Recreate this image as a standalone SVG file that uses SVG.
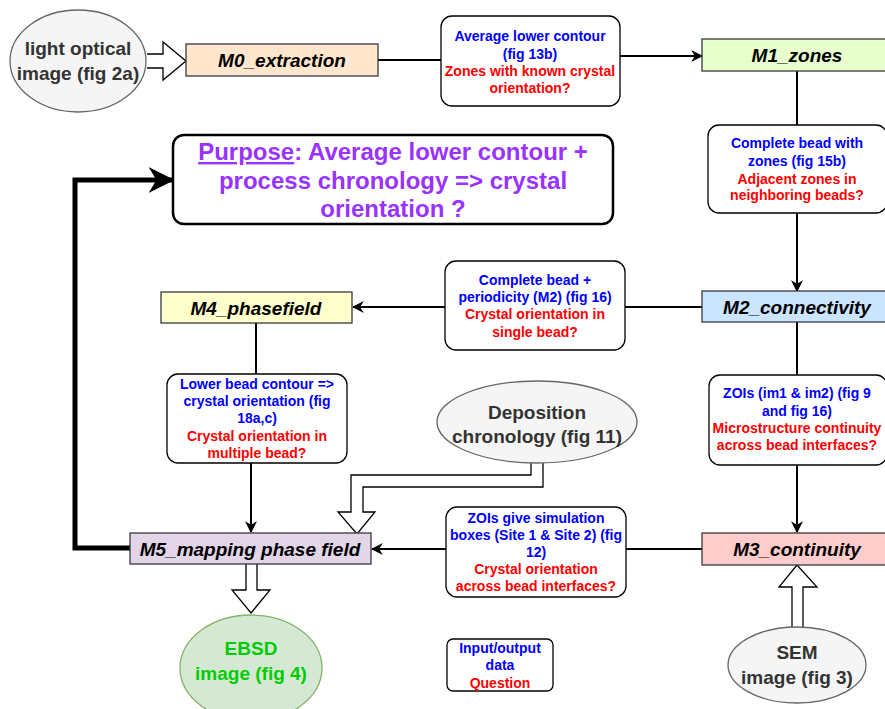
<svg xmlns="http://www.w3.org/2000/svg" width="885" height="709" viewBox="0 0 885 709">
<defs>
<marker id="ahs" viewBox="0 0 10 10" refX="9" refY="5" markerWidth="12" markerHeight="12" orient="auto" markerUnits="userSpaceOnUse"><path d="M0,0 L10,5 L0,10 L3,5 Z" fill="#000"/></marker>
<marker id="ahb" viewBox="0 0 10 10" refX="9" refY="5" markerWidth="26" markerHeight="26" orient="auto" markerUnits="userSpaceOnUse"><path d="M0,0 L10,5 L0,10 L3,5 Z" fill="#000"/></marker>
</defs>
<style>
text{font-family:"Liberation Sans",Arial,sans-serif;font-weight:bold;text-anchor:middle}
.m{font-size:19px;font-style:italic;fill:#000}
.n{stroke:#36393d;stroke-width:1.3}
.b{fill:#fff;stroke:#000;stroke-width:1.3}
.s{font-size:14px}
.bl{fill:#0000ff}
.rd{fill:#ff0000}
.e{font-size:19px;fill:#333}
.c{fill:none;stroke:#000;stroke-width:2}
.h{fill:#fff;stroke:#000;stroke-width:1.3}
</style>
<g id="connectors">
<path class="c" d="M378,60 H441"/>
<path class="c" d="M620,56 H702" marker-end="url(#ahs)"/>
<path class="c" d="M797,71 V125"/>
<path class="c" d="M797,213 V291" marker-end="url(#ahs)"/>
<path class="c" d="M702,307 H625"/>
<path class="c" d="M445,307 H353" marker-end="url(#ahs)"/>
<path class="c" d="M256,323 V374"/>
<path class="c" d="M251,463 V532" marker-end="url(#ahs)"/>
<path class="c" d="M797,322 V375"/>
<path class="c" d="M797,465 V532" marker-end="url(#ahs)"/>
<path class="c" d="M702,549 H626"/>
<path class="c" d="M446,549 H372" marker-end="url(#ahs)"/>
<path fill="none" stroke="#000" stroke-width="5" d="M130,548 H75 V180 H172" marker-end="url(#ahb)"/>
<path class="h" d="M147,54 H163 V42 L186,61 L163,80 V68 H147"/>
<path class="h" d="M531,463 V475 H351 V512 H338 L357,534 L375,512 H363 V487 H543 V463"/>
<path class="h" d="M246,564 V590 H232 L251,613 L270,590 H257 V564"/>
<path class="h" d="M792,627 V587 H779 L797,565 L817,587 H803 V627"/>
</g>
<g id="light-optical">
<ellipse cx="78" cy="61" rx="68" ry="51" fill="#f5f5f5" stroke="#666" stroke-width="1.3"/>
<text class="e" x="78" y="55">light optical</text>
<text class="e" x="78" y="80">image (fig 2a)</text>
</g>
<g id="M0">
<rect class="n" x="186" y="44" width="192" height="32" fill="#ffe6cc"/>
<text class="m" x="282" y="67">M0_extraction</text>
</g>
<g id="label-avg">
<rect class="b" x="441" y="16" width="179" height="90" rx="11"/>
<text class="s bl" x="530" y="41">Average lower contour</text>
<text class="s bl" x="530" y="59">(fig 13b)</text>
<text class="s rd" x="530" y="76">Zones with known crystal</text>
<text class="s rd" x="530" y="93">orientation?</text>
</g>
<g id="M1">
<rect class="n" x="702" y="39" width="185" height="32" fill="#e6ffcc"/>
<text class="m" x="797" y="62">M1_zones</text>
</g>
<g id="label-zones">
<rect class="b" x="708" y="125" width="179" height="88" rx="11"/>
<text class="s bl" x="797" y="148">Complete bead with</text>
<text class="s bl" x="797" y="166">zones (fig 15b)</text>
<text class="s rd" x="797" y="184">Adjacent zones in</text>
<text class="s rd" x="797" y="200">neighboring beads?</text>
</g>
<g id="purpose">
<rect x="173" y="135" width="440" height="89" rx="11" fill="#fff" stroke="#000" stroke-width="2.5"/>
<text x="393" y="160" font-size="24" fill="#9933ff"><tspan text-decoration="underline">Purpose</tspan>: Average lower contour +</text>
<text x="393" y="189" font-size="24" fill="#9933ff">process chronology =&gt; crystal</text>
<text x="393" y="217" font-size="24" fill="#9933ff">orientation ?</text>
</g>
<g id="M2">
<rect class="n" x="702" y="291" width="185" height="31" fill="#cce5ff"/>
<text class="m" x="797" y="314">M2_connectivity</text>
</g>
<g id="label-periodicity">
<rect class="b" x="445" y="261" width="180" height="89" rx="11"/>
<text class="s bl" x="535" y="285">Complete bead  +</text>
<text class="s bl" x="535" y="302">periodicity (M2) (fig 16)</text>
<text class="s rd" x="535" y="319">Crystal orientation in</text>
<text class="s rd" x="535" y="337">single bead?</text>
</g>
<g id="M4">
<rect class="n" x="161" y="292" width="191" height="31" fill="#ffffcc"/>
<text class="m" x="256" y="315">M4_phasefield</text>
</g>
<g id="label-lower">
<rect class="b" x="167" y="374" width="180" height="89" rx="11"/>
<text class="s bl" x="257" y="389">Lower bead contour =&gt;</text>
<text class="s bl" x="257" y="406">crystal orientation (fig</text>
<text class="s bl" x="257" y="423">18a,c)</text>
<text class="s rd" x="257" y="441">Crystal orientation in</text>
<text class="s rd" x="257" y="458">multiple bead?</text>
</g>
<g id="label-zois">
<rect class="b" x="709" y="375" width="178" height="90" rx="11"/>
<text class="s bl" x="797" y="398">ZOIs (im1 &amp; im2) (fig 9</text>
<text class="s bl" x="797" y="416">and fig 16)</text>
<text class="s rd" x="797" y="433">Microstructure continuity</text>
<text class="s rd" x="797" y="450">across bead interfaces?</text>
</g>
<g id="deposition">
<ellipse cx="537" cy="422" rx="100" ry="41" fill="#f5f5f5" stroke="#666" stroke-width="1.3"/>
<text class="e" x="537" y="419">Deposition</text>
<text class="e" x="537" y="443">chronology (fig 11)</text>
</g>
<g id="M5">
<rect class="n" x="130" y="533" width="241" height="31" fill="#e1d5e7"/>
<text class="m" x="250" y="556">M5_mapping phase field</text>
</g>
<g id="label-sim">
<rect class="b" x="446" y="507" width="180" height="90" rx="11"/>
<text class="s bl" x="536" y="523">ZOIs give simulation</text>
<text class="s bl" x="536" y="540">boxes (Site 1 &amp; Site 2) (fig</text>
<text class="s bl" x="536" y="557">12)</text>
<text class="s rd" x="536" y="574">Crystal orientation</text>
<text class="s rd" x="536" y="591">across bead interfaces?</text>
</g>
<g id="M3">
<rect class="n" x="702" y="533" width="185" height="32" fill="#ffcccc"/>
<text class="m" x="797" y="556">M3_continuity</text>
</g>
<g id="ebsd">
<ellipse cx="251" cy="668" rx="71" ry="53" fill="#d5e8d4" stroke="#82b366" stroke-width="1.3"/>
<text x="251" y="655" font-size="19" fill="#00cc00">EBSD</text>
<text x="251" y="680" font-size="19" fill="#00cc00">image (fig 4)</text>
</g>
<g id="legend">
<rect class="b" x="447" y="639" width="106" height="52" rx="6"/>
<text class="s bl" x="500" y="653">Input/output</text>
<text class="s bl" x="500" y="670">data</text>
<text class="s rd" x="500" y="688">Question</text>
</g>
<g id="sem">
<ellipse cx="797" cy="665" rx="69" ry="38" fill="#f5f5f5" stroke="#666" stroke-width="1.3"/>
<text class="e" x="797" y="659">SEM</text>
<text class="e" x="797" y="684">image (fig 3)</text>
</g>
</svg>
